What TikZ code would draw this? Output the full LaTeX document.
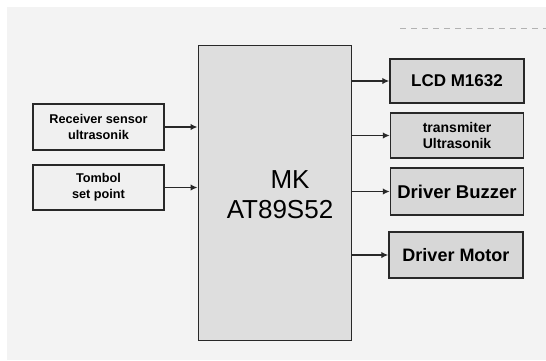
\documentclass[tikz,border=0pt]{standalone}
\usepackage{fontspec}
\setsansfont{Liberation Sans}
\usepackage{xcolor}
\definecolor{paper}{RGB}{243,243,243}
\definecolor{block}{RGB}{222,222,222}
\definecolor{outblk}{RGB}{215,215,215}
\definecolor{inblk}{RGB}{240,240,240}
\definecolor{ink}{RGB}{40,40,40}
\usetikzlibrary{positioning, arrows.meta, calc}

\begin{document}
\begin{tikzpicture}[x=1pt, y=-1pt,
  inbox/.style={draw=ink, line width=1.5pt, fill=inblk, minimum width=131pt,
                minimum height=46pt, align=center, inner sep=0pt,
                font=\sffamily\bfseries\fontsize{12.7}{16}\selectfont},
  outbox/.style={draw=ink, line width=1.5pt, fill=outblk, minimum width=133pt,
                 minimum height=45pt, align=center, inner sep=0pt,
                 font=\sffamily\bfseries\fontsize{17}{19}\selectfont},
  link/.style={ink, line width=1.5pt, -{Latex[length=7pt,width=6.5pt]}},
]
  % Sheet and margins
  \useasboundingbox (0,0) rectangle (546,360);
  \fill[white] (0,0) rectangle (546,360);
  \fill[paper] (7,7) rectangle (546,360);
  \coordinate (dashL) at (400,28);
  \coordinate (dashR) at (546,28);
  \draw[gray!60, line width=1pt, dash pattern=on 6pt off 5pt] (dashL) -- (dashR);

  % Microcontroller
  \node[draw=ink, line width=1pt, fill=block, minimum width=153pt,
        minimum height=295pt, inner sep=0pt] (mcu) at (274.5,192.5) {};
  \node[font=\sffamily\fontsize{26}{30}\selectfont, align=center]
        (mcutxt) at (280,195) {\hspace*{20pt}MK\\AT89S52};

  % Inputs
  \node[inbox] (recv) at (98.5,127) {Receiver sensor\\ultrasonik};
  \node[inbox, minimum height=45pt] (tombol) at (98.5,187.5) {Tombol\\set point};

  % Outputs
  \node[outbox, minimum width=134pt, minimum height=44pt] (lcd) at (457,81) {LCD M1632};
  \node[outbox, font=\sffamily\bfseries\fontsize{14}{15.5}\selectfont] (tx) at (457,135.5)
        {transmiter\\Ultrasonik};
  \node[outbox, minimum height=47pt, font=\sffamily\bfseries\fontsize{18.5}{20}\selectfont]
        (buzz) at (457,191.5) {Driver Buzzer};
  \node[outbox, minimum width=134pt, minimum height=46pt,
        font=\sffamily\bfseries\fontsize{18}{20}\selectfont] (motor) at (456,255) {Driver Motor};

  % Connections
  \draw[link] (recv.east) -- (recv.east -| mcu.west);
  \draw[link] (tombol.east) -- (tombol.east -| mcu.west);
  \foreach \out in {lcd, tx, buzz, motor}
    \draw[link] (\out.west -| mcu.east) -- (\out.west);
\end{tikzpicture}
\end{document}
